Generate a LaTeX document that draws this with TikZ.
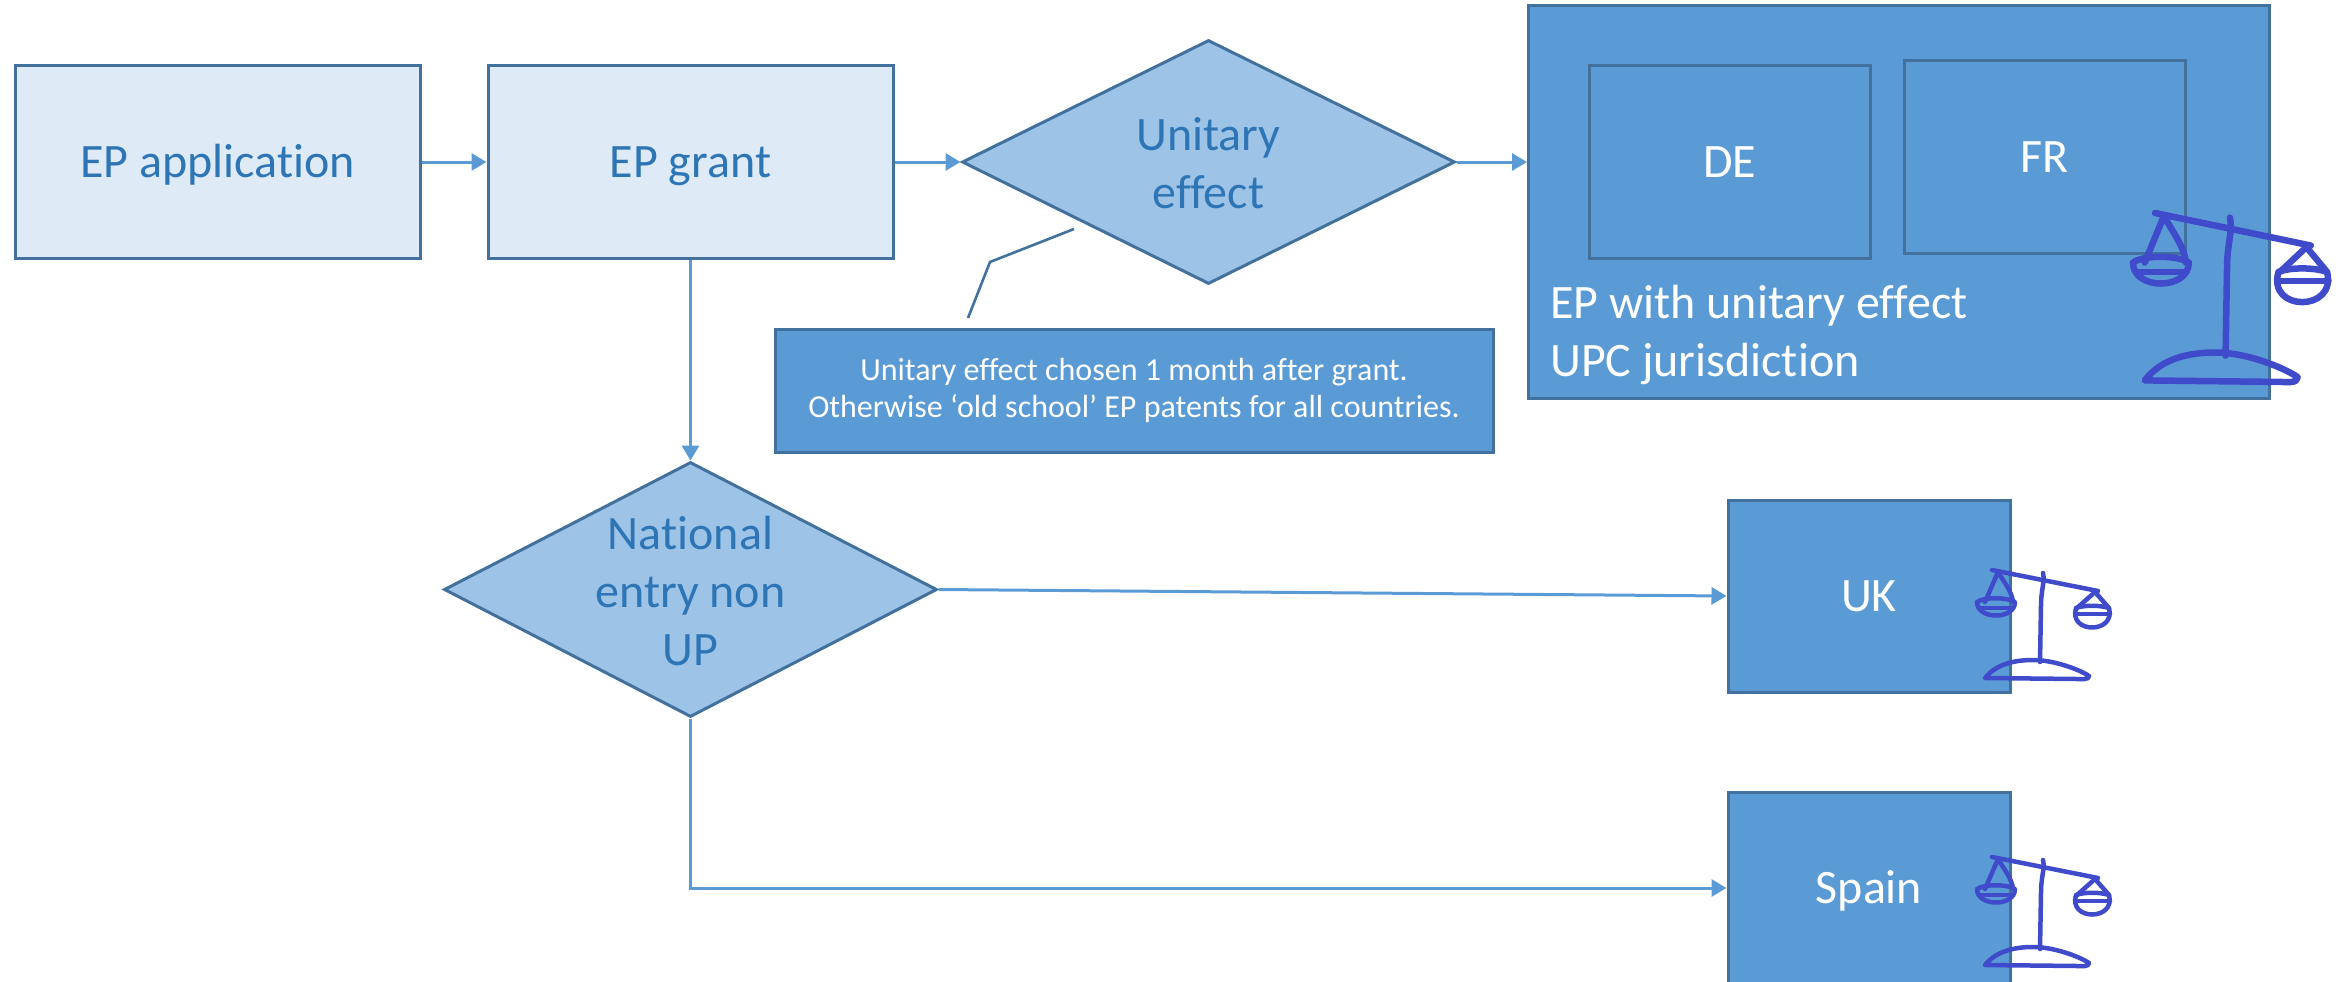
\documentclass[tikz,border=0pt]{standalone}
\usepackage{fontspec}
\setmainfont[Ligatures=NoCommon]{Carlito}
\usetikzlibrary{arrows.meta,shapes.geometric}
\definecolor{lightfill}{HTML}{DEEAF6}
\definecolor{midfill}{HTML}{9DC3E6}
\definecolor{mainblue}{HTML}{5B9BD5}
\definecolor{edgeblue}{HTML}{41719C}
\definecolor{textblue}{HTML}{2E75B6}
\definecolor{inkblue}{HTML}{3F4BCB}
\tikzset{
  boxbase/.style={rectangle,draw=edgeblue,line width=3pt,inner sep=0pt,
    minimum width=#1},
  boxbase/.default=100pt,
  oneline/.style={text height=30pt,text depth=0pt,font=\bigtext},
  lightbox/.style={boxbase=405pt,minimum height=192pt,fill=lightfill,text=textblue,oneline},
  darkbox/.style={boxbase=#1,minimum height=192pt,fill=mainblue,text=white,oneline},
  decision/.style={diamond,draw=edgeblue,line width=3pt,fill=midfill,inner sep=0pt,aspect=1.9},
  decisiontext/.style={text=textblue,font=\bigtext,align=center,yshift=-1.5pt},
  flow/.style={draw=mainblue,line width=3pt,-{Triangle[length=15pt,width=17pt]}},
  ink/.style={draw=inkblue,line cap=round,line join=round},
  justicescale/.pic={
    \draw[ink] (0,0) -- (106,21);
    \draw[ink] (51,3) .. controls (53,12) and (49,20) .. (49,35) -- (48,92);
    \draw[ink] (-7,108) .. controls (5,93) and (25,90) .. (41,90)
      .. controls (65,90) and (92,102) .. (97,106) .. controls (97,110) and (90,109) .. (85,109) -- cycle;
    \draw[ink] (6,2) -- (-7,32) (6,2) .. controls (12,12) and (20,22) .. (21,32);
    \draw[ink] (-15,32) .. controls (-15,50) and (23,50) .. (23,32) .. controls (15,27) and (-8,27) .. (-15,32);
    \draw[ink] (-12,38) -- (20,38);
    \draw[ink] (103,22) -- (85,38) (103,22) -- (117,38);
    \draw[ink] (84,38) .. controls (76,64) and (124,64) .. (117,38) .. controls (108,35) and (92,35) .. (84,38);
    \draw[ink] (84,44) -- (118,44);
  }
}
\newcommand{\bigtext}{\fontsize{48}{58}\selectfont}
\newcommand{\smalltext}{\fontsize{32}{37}\selectfont}
\begin{document}
\begin{tikzpicture}[x=1pt,y=-1pt]
\useasboundingbox (0,0) rectangle (2343,982);
% top row
\node[lightbox] (app) at (217.5,162) {EP application};
\node[lightbox] (grant) at (690.5,162) {EP grant};
\node[decision,minimum width=493pt,minimum height=244pt,
  label={[decisiontext]center:{Unitary\\effect}}] (unitary) at (1208.5,162) {};
% unitary box
\node[boxbase=741pt,minimum height=392pt,fill=mainblue] (upbox) at (1899,202) {};
\node[darkbox=281pt] (de) at (1729.5,162) {DE};
\node[darkbox=281pt] (fr) at (2044.5,157) {FR};
\node[anchor=west,text=white,font=\bigtext,align=left,inner sep=0pt] (uplabel) at (1550,335) {EP with unitary effect\\UPC jurisdiction};
% note
\node[boxbase=718pt,minimum height=123pt,fill=mainblue] (note) at (1134,390.5) {};
\node[text=white,font=\smalltext,align=center,inner sep=0pt] (notetext) at (1134,390.5)
  {Unitary effect chosen 1 month after grant.\\Otherwise ‘old school’ EP patents for all countries.};
\coordinate (calloutA) at (1074,229);
\coordinate (calloutB) at (990,262);
\coordinate (calloutC) at (968,318);
\draw[draw=edgeblue,line width=2.6pt] (calloutA) -- (calloutB) -- (calloutC);
% lower
\node[decision,minimum width=493pt,minimum height=255pt,
  label={[decisiontext]center:{National\\entry non\\UP}}] (national) at (690.5,589.5) {};
\node[darkbox=282pt] (uk) at (1869,596) {UK};
\node[darkbox=282pt] (spain) at (1869,888) {Spain};
% connectors
\draw[flow] (app.east) -- (grant.west);
\draw[flow] (grant.east) -- (unitary.west);
\draw[flow] (unitary.east) -- (upbox.west |- unitary.east);
\draw[flow] (grant.south) -- (national.north);
\draw[flow] (national.east) -- (uk.west);
\draw[flow] (national.south) |- (spain.west);
% scales
\path (2155,213) pic[xscale=1.47,yscale=1.55,line width=6.5pt] {justicescale};
\path (1992,570) pic[line width=4.5pt] {justicescale};
\path (1992,857) pic[line width=4.5pt] {justicescale};
\end{tikzpicture}
\end{document}
